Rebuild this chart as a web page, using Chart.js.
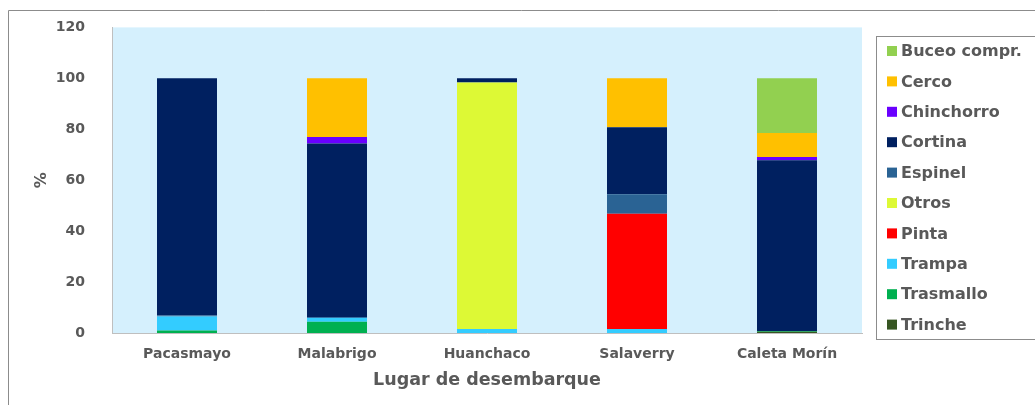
<!DOCTYPE html>
<html>
<head>
<meta charset="utf-8">
<script src="https://cdn.jsdelivr.net/npm/chart.js@4.4.0/dist/chart.umd.min.js"></script>
<style>
  html, body { margin: 0; padding: 0; background: #fff; }
</style>
</head>
<body>
<canvas id="myChart" width="1035" height="405"></canvas>
<script>
const places = ['Pacasmayo', 'Malabrigo', 'Huanchaco', 'Salaverry', 'Caleta Morín'];

// % per gear type, stacked bottom -> top
const trinche    = [0,    0,    0,    0,    0.5];
const trasmallo  = [1.0,  4.4,  0,    0,    0.3];
const trampa     = [5.5,  1.6,  1.6,  1.6,  0];
const pinta      = [0,    0,    0,    45.2, 0];
const otros      = [0,    0,    96.8, 0,    0];
const espinel    = [0.4,  0,    0,    7.7,  0];
const cortina    = [93.1, 68.4, 1.6,  26.3, 67.0];
const chinchorro = [0,    2.6,  0,    0,    1.3];
const cerco      = [0,    23.0, 0,    19.2, 9.4];
const buceo      = [0,    0,    0,    0,    21.5];

const yTicks = [0, 20, 40, 60, 80, 100, 120];

const TXT = '#595959';
const FONT = '"DejaVu Sans", sans-serif';

const series = [
    ['Trinche', trinche, '#375623'],
    ['Trasmallo', trasmallo, '#00B050'],
    ['Trampa', trampa, '#33CCFF'],
    ['Pinta', pinta, '#FF0000'],
    ['Otros', otros, '#DDF935'],
    ['Espinel', espinel, '#2A6394'],
    ['Cortina', cortina, '#002060'],
    ['Chinchorro', chinchorro, '#6A00FF'],
    ['Cerco', cerco, '#FFC000'],
    ['Buceo compr.', buceo, '#92D050'],
];

// background of plot area + outer frame
const framePlugin = {
    id: 'frame',
    beforeDraw(chart) {
        const {ctx, chartArea: a} = chart;
        ctx.save();
        ctx.fillStyle = '#D5F0FD';
        ctx.fillRect(a.left, a.top, a.right - a.left, a.bottom - a.top);
        ctx.strokeStyle = '#8C8C8C';
        ctx.lineWidth = 1;
        ctx.beginPath();
        ctx.moveTo(8.5, 405);
        ctx.lineTo(8.5, 10.5);
        ctx.lineTo(1035, 10.5);
        ctx.stroke();
        ctx.restore();
    }
};

// boxed legend on the right, top series first
const boxLegend = {
    id: 'boxLegend',
    afterDraw(chart) {
        const ctx = chart.ctx;
        ctx.save();
        ctx.strokeStyle = '#8C8C8C';
        ctx.lineWidth = 1;
        ctx.strokeRect(876.5, 36.5, 170, 303);
        ctx.font = 'bold 16px ' + FONT;
        ctx.textBaseline = 'middle';
        const ds = chart.data.datasets.slice().reverse();
        ds.forEach((d, i) => {
            const y = 51 + i * 30.4;
            ctx.fillStyle = d.backgroundColor;
            ctx.fillRect(887, y - 5, 10, 10);
            ctx.fillStyle = TXT;
            ctx.fillText(d.label, 901, y + 1);
        });
        ctx.restore();
    }
};

new Chart(document.getElementById('myChart'), {
    type: 'bar',
    data: {
        labels: places,
        datasets: series.map(([label, data, color]) => ({
            label: label,
            data: data,
            backgroundColor: color,
            borderWidth: 0,
            barPercentage: 0.4,
            categoryPercentage: 1.0
        }))
    },
    options: {
        responsive: false,
        animation: false,
        layout: { padding: { left: 0, right: 173, top: 27, bottom: 0 } },
        plugins: {
            legend: { display: false },
            tooltip: { enabled: false }
        },
        scales: {
            x: {
                stacked: true,
                grid: { display: false },
                border: { display: true, color: '#BFBFBF', width: 1 },
                ticks: { color: TXT, font: { family: FONT, size: 14, weight: 'bold' }, padding: 5 },
                title: {
                    display: true, text: 'Lugar de desembarque', color: TXT,
                    font: { family: FONT, size: 17.5, weight: 'bold' },
                    padding: { top: 0, bottom: 14 }
                },
                afterFit(s) { s.height = 72; }
            },
            y: {
                stacked: true,
                min: 0, max: 120,
                grid: { display: false },
                border: { display: true, color: '#BFBFBF', width: 1 },
                afterBuildTicks(s) { s.ticks = yTicks.map(v => ({ value: v })); },
                ticks: { color: TXT, font: { family: FONT, size: 14, weight: 'bold' }, padding: 19 },
                title: {
                    display: true, text: '%', color: TXT,
                    font: { family: FONT, size: 16, weight: 'bold' },
                    padding: { top: 32, bottom: 0 }
                },
                afterFit(s) { s.width = 112; }
            }
        }
    },
    plugins: [framePlugin, boxLegend]
});
</script>
</body>
</html>
